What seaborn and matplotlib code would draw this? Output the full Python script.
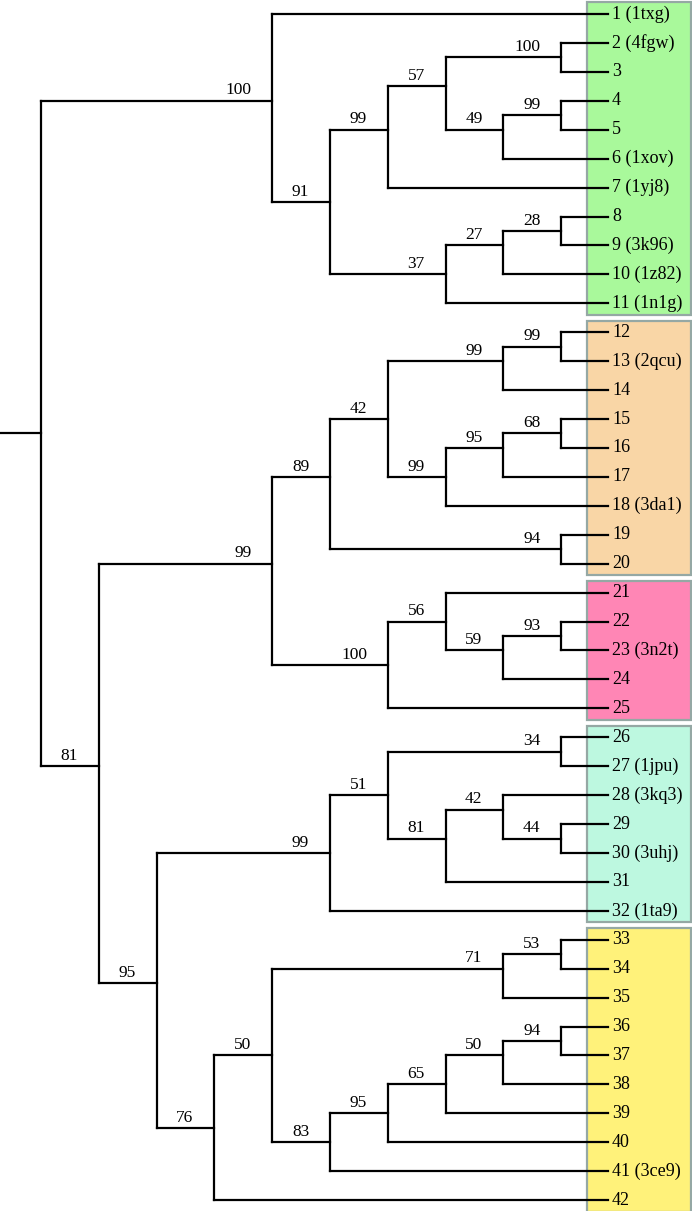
"""
Topology-only cladogram with bootstrap support and coloured leaf groups.
"""

import matplotlib
matplotlib.use("Agg")
import matplotlib.pyplot as plt
from matplotlib.patches import Rectangle
import pandas as pd
import seaborn as sns

# Tree topology (newick), bootstrap support after each closing bracket
clade_a = "(1,((((2,3)100,((4,5)99,6)49)57,7)99,(((8,9)28,10)27,11)37)91)100"
clade_g2 = "((((12,13)99,14)99,(((15,16)68,17)95,18)99)42,(19,20)94)89"
clade_g3 = "((21,((22,23)93,24)59)56,25)100"
clade_g4 = "(((26,27)34,((28,(29,30)44)42,31)81)51,32)99"
clade_g5 = "((((33,34)53,35)71,(((((36,37)94,38)50,39)65,40)95,41)83)50,42)76"
newick = f"({clade_a},(({clade_g2},{clade_g3})99,({clade_g4},{clade_g5})95)81);"

# PDB codes shown next to some leaves
pdb_ids = {1: "1txg", 2: "4fgw", 6: "1xov", 7: "1yj8", 9: "3k96", 10: "1z82",
           11: "1n1g", 13: "2qcu", 18: "3da1", 23: "3n2t", 27: "1jpu",
           28: "3kq3", 30: "3uhj", 32: "1ta9", 41: "3ce9"}

# leaf groups (first leaf, last leaf) and box colours
group_first = [1, 12, 21, 26, 33]
group_last = [11, 20, 25, 32, 42]
group_colors = ["#a9f99b", "#f9d6a6", "#ff86b5", "#bdf8e0", "#fff27a"]

n_leaves = 42
LEAF_TIP = 0.19      # tips stop a little short of the aligned leaf column
LABEL_X = 0.12
STEM = 0.71


def parse(s):
    pos = 0

    def node():
        nonlocal pos
        if s[pos] == "(":
            pos += 1
            kids = [node()]
            while s[pos] == ",":
                pos += 1
                kids.append(node())
            pos += 1
            start = pos
            while s[pos] not in ",);":
                pos += 1
            return {"kids": kids, "support": s[start:pos]}
        start = pos
        while s[pos] not in ",);":
            pos += 1
        return {"leaf": int(s[start:pos])}

    return node()


def layout(n):
    # x = height above the leaves, y on a half-row grid
    if "leaf" in n:
        n["h"] = 0
        n["u"] = 2 * n["leaf"]
    else:
        for k in n["kids"]:
            layout(k)
        n["h"] = max(k["h"] for k in n["kids"]) + 1
        n["u"] = (n["kids"][0]["u"] + n["kids"][-1]["u"]) // 2
    n["y"] = n["u"] / 2


root = parse(newick)
layout(root)

rows = []


def add(x0, y0, x1, y1):
    seg = len(rows) // 2
    rows.append({"x": x0, "y": y0, "seg": seg})
    rows.append({"x": x1, "y": y1, "seg": seg})


supports = []
leaves = []


def walk(n):
    if "leaf" in n:
        leaves.append(n)
        return
    kids = n["kids"]
    add(n["h"], kids[0]["y"], n["h"], kids[-1]["y"])
    for k in kids:
        kx = LEAF_TIP if "leaf" in k else k["h"]
        add(n["h"], k["y"], kx, k["y"])
        if "kids" in k and k["support"]:
            supports.append((k["h"], k["y"], k["support"]))
        walk(k)


add(root["h"] + STEM, root["y"], root["h"], root["y"])
walk(root)
segs = pd.DataFrame(rows)

sns.set_style("white")
plt.rcParams["font.family"] = ["Liberation Serif", "DejaVu Serif"]
plt.rcParams["text.color"] = "black"

fig = plt.figure(figsize=(6.92, 12.11), dpi=100)
ax = fig.add_axes([0, 0, 1, 1])

# coloured group boxes behind the leaf labels
for first, last, col in zip(group_first, group_last, group_colors):
    ax.add_patch(Rectangle((-1.246, first - 0.4), 1.8, last - first + 0.8,
                           facecolor=col, edgecolor="#95a8a4", lw=1.6, zorder=0))

sns.lineplot(data=segs, x="x", y="y", units="seg", estimator=None, sort=False,
             color="black", linewidth=1.6, solid_capstyle="projecting",
             legend=False, ax=ax, zorder=2)

for h, y, s in supports:
    ax.text(h + 0.36, y - 0.08, s, ha="right", va="bottom", fontsize=12.5,
            color="black", zorder=3)

for n in leaves:
    i = n["leaf"]
    label = f"{i} ({pdb_ids[i]})" if i in pdb_ids else str(i)
    ax.text(LABEL_X, n["y"], label, ha="left", va="center", fontsize=13,
            color="black", zorder=3)

ax.set_xlim(10.71, -1.263)
ax.set_ylim(n_leaves + 0.375, 0.516)
ax.axis("off")

fig.savefig("out.png", dpi=100)
plt.close(fig)
